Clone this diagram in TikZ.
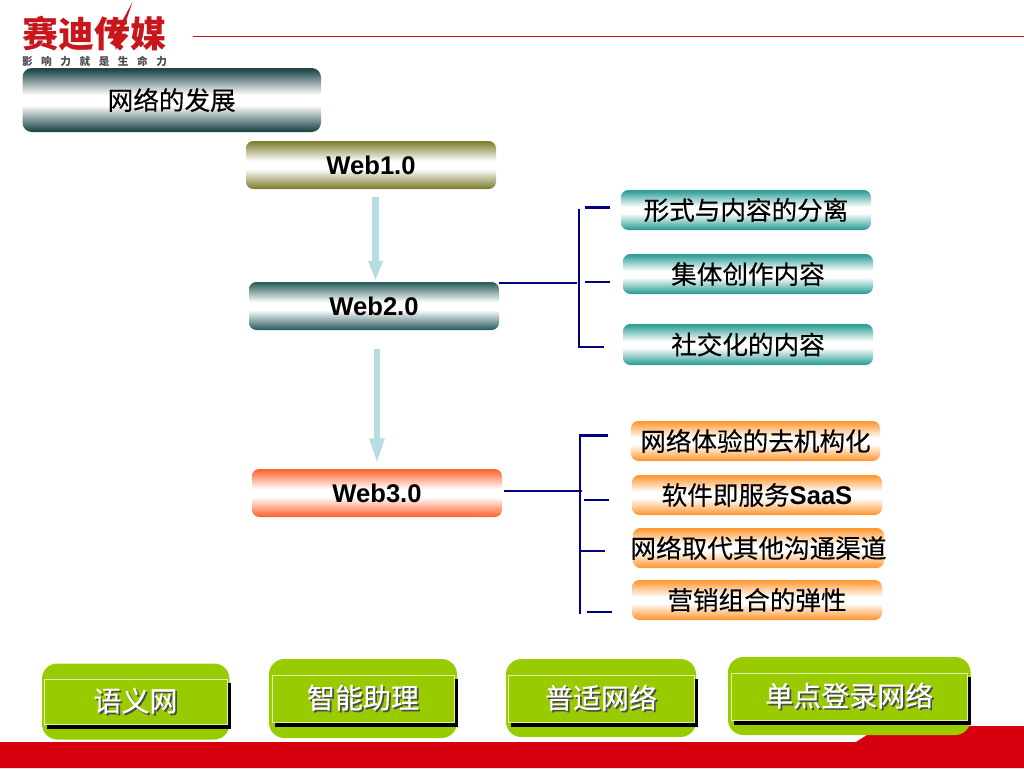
\documentclass[tikz,border=0pt]{standalone}
\usepackage{fontspec}
\usetikzlibrary{arrows.meta,calc}
\setmainfont{Liberation Sans}
\newfontfamily\cjk[FakeBold=0.25]{Noto Sans CJK SC}
\newfontfamily\cjkheavy{Noto Sans CJK SC}
\definecolor{bandDeep}{HTML}{1F4747}
\definecolor{bandOlive}{HTML}{808033}
\definecolor{bandSlate}{HTML}{2F6060}
\definecolor{bandCoral}{HTML}{FF6633}
\definecolor{bandTeal}{HTML}{2E9E96}
\definecolor{bandOrange}{HTML}{FF9933}
\definecolor{arrowBlue}{HTML}{B5DDE3}
\definecolor{linkNavy}{HTML}{000080}
\definecolor{leafGreen}{HTML}{99CC00}
\definecolor{brandRed}{HTML}{D7000F}
\definecolor{logoRed}{HTML}{C8161D}
\newcommand{\declband}[1]{\pgfdeclareverticalshading{#1Shade}{100bp}{color(0bp)=(#1);color(26bp)=(#1);color(46bp)=(white);color(54bp)=(white);color(74bp)=(#1);color(100bp)=(#1)}}
\declband{bandDeep}\declband{bandOlive}\declband{bandSlate}\declband{bandCoral}\declband{bandTeal}\declband{bandOrange}
\newcommand{\bandbox}[7]{\node[bandnode,shading=#2Shade,minimum width={(#5-#3)*0.75pt},minimum height={(#6-#4)*0.75pt}] (#1) at ({(#3+#5)/2},{(#4+#6)/2}) {\raisebox{-0.8pt}{\makebox[0pt][c]{#7}}};}
\newcommand{\greenbtn}[9]{%
  \path[fill=leafGreen,rounded corners=11.5pt] (#2,#3) rectangle (#4,#5);
  \fill[black] (#6+3,#7+4) rectangle (#8+3.5,#9+4.5);
  \node[btnnode,minimum width={(#8-#6)*0.75pt},minimum height={(#9-#7)*0.75pt}] (#1) at ({(#6+#8)/2},{(#7+#9)/2}) {\raisebox{-0.8pt}{\btntext}};}
\newcommand{\shadowed}[1]{\makebox[0pt][l]{\raisebox{-1.3pt}{\hspace{1.3pt}\textcolor{black!70}{#1}}}\textcolor{white}{#1}}
\tikzset{
  bandnode/.style={shade,rounded corners=5.5pt,inner sep=0pt,font=\fontsize{19.2}{22}\selectfont,text=black},
  btnnode/.style={draw=white!70!leafGreen,line width=0.6pt,fill=leafGreen,inner sep=0pt,font=\cjk\fontsize{21}{24}\selectfont},
  flowarrow/.style={draw=arrowBlue,line width=5pt,-{Triangle[width=10pt,length=15pt,fill=arrowBlue]}},
  link/.style={draw=linkNavy,line width=1.9pt},
}
\begin{document}
\begin{tikzpicture}[x=0.75pt,y=-0.75pt]
\useasboundingbox (0,0) rectangle (1024,768);
% footer
\fill[brandRed] (0,742) -- (856,742) -- (878,728) -- (888,726) -- (1024,726) -- (1024,768) -- (0,768) -- cycle;
% header
\draw[logoRed,line width=0.75pt] (193,36.5) -- (1024,36.5);
\fill[logoRed] (132.5,2) -- (121,36) -- (116,50) -- (113,38) -- cycle;
\node[font=\cjkheavy\bfseries\fontsize{27}{30}\selectfont,text=logoRed,inner sep=0pt] (logo) at (94.5,34) {赛迪传媒};
\node[font=\cjkheavy\bfseries\fontsize{8}{9}\selectfont,text=black!70,inner sep=0pt] (slogan) at (94.5,61) {\hbox to 108.75pt{影\hfil 响\hfil 力\hfil 就\hfil 是\hfil 生\hfil 命\hfil 力}};
% main boxes
\begin{scope}[bandnode/.append style={rounded corners=7pt}]
\bandbox{title}{bandDeep}{22.5}{68}{321}{132}{\cjk 网络的发展}
\end{scope}
\bandbox{web1}{bandOlive}{246}{141}{496}{189}{\bfseries Web1.0}
\bandbox{web2}{bandSlate}{249}{282}{499}{330}{\bfseries Web2.0}
\bandbox{web3}{bandCoral}{252}{469}{502}{517}{\bfseries Web3.0}
% right boxes
\bandbox{t1}{bandTeal}{621}{190}{871}{230}{\cjk 形式与内容的分离}
\bandbox{t2}{bandTeal}{623}{254}{873}{294}{\cjk 集体创作内容}
\bandbox{t3}{bandTeal}{623}{324}{873}{365}{\cjk 社交化的内容}
\bandbox{o1}{bandOrange}{631}{421}{880}{461}{\cjk 网络体验的去机构化}
\bandbox{o2}{bandOrange}{632}{475}{882}{515}{\cjk 软件即服务{\rmfamily\bfseries SaaS}}
\bandbox{o3}{bandOrange}{633}{528}{884}{568}{\cjk 网络取代其他沟通渠道}
\bandbox{o4}{bandOrange}{632}{580}{882}{620}{\cjk 营销组合的弹性}
% flow arrows
\coordinate (a1s) at (375.5,197);
\coordinate (a1e) at (375.5,281);
\coordinate (a2s) at (377,349);
\coordinate (a2e) at (377,465);
\draw[flowarrow] (a1s) -- (a1e);
\draw[flowarrow,-{Triangle[width=10pt,length=20pt,fill=arrowBlue]}] (a2s) -- (a2e);
% upper bracket
\coordinate (u0) at (577,283);
\coordinate (ut) at (579,209);
\coordinate (ub) at (579,347);
\coordinate (s1a) at (585,207.5);
\coordinate (s1b) at (610,207.5);
\coordinate (s2a) at (585,282);
\coordinate (s2b) at (610,282);
\coordinate (s3b) at (604,347);
\draw[link] (web2.east |- u0) -- (u0);
\draw[link] (ut) -- (ub) -- (s3b);
\draw[link] (s1a) -- (s1b);
\draw[link] (s2a) -- (s2b);
% lower bracket
\coordinate (l0) at (582,491);
\coordinate (l1) at (504,491);
\coordinate (lt) at (580,435.5);
\coordinate (lb) at (580,614);
\coordinate (r1b) at (608,435.5);
\coordinate (r2a) at (584,500);
\coordinate (r2b) at (609,500);
\coordinate (r3a) at (580,551);
\coordinate (r3b) at (605,551);
\coordinate (r4a) at (587,612);
\coordinate (r4b) at (612,612);
\draw[link] (l1) -- (l0);
\draw[link] (r1b) -- (lt) -- (lb);
\draw[link] (r2a) -- (r2b);
\draw[link] (r3a) -- (r3b);
\draw[link] (r4a) -- (r4b);
% bottom buttons
\def\btntext{\shadowed{语义网}}
\greenbtn{b1}{42}{663.5}{229.5}{739.5}{44}{679}{227}{724}
\def\btntext{\shadowed{智能助理}}
\greenbtn{b2}{269}{659}{457}{738}{272}{675}{454}{722}
\def\btntext{\shadowed{普适网络}}
\greenbtn{b3}{506}{659}{696}{737}{508}{675}{694}{722}
\def\btntext{\shadowed{单点登录网络}}
\greenbtn{b4}{728}{657}{970.5}{735}{731}{673}{967.5}{720}
\end{tikzpicture}
\end{document}
